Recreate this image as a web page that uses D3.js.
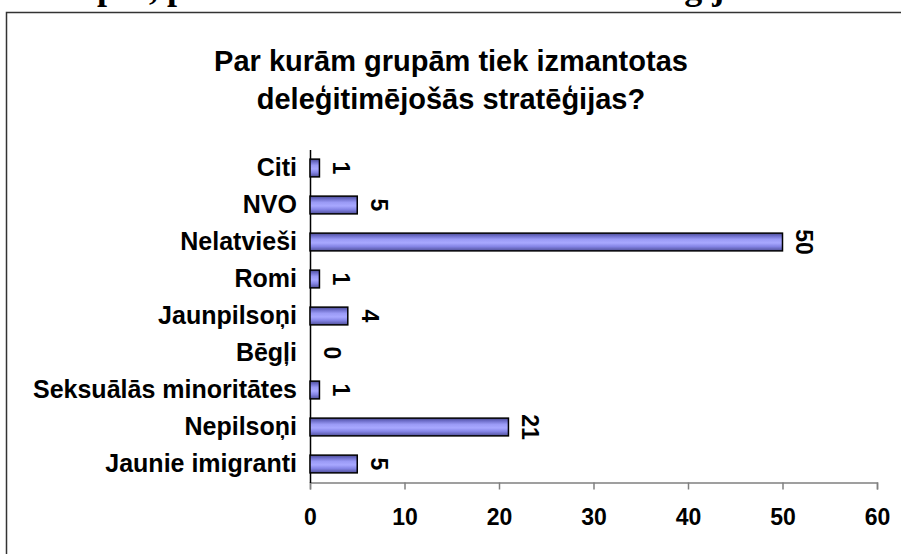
<!DOCTYPE html>
<html>
<head>
<meta charset="utf-8">
<script src="https://cdn.jsdelivr.net/npm/d3@7"></script>
<style>
  body { margin: 0; background: #fff; }
  text { font-family: "Liberation Sans", Arial, sans-serif; font-weight: bold; fill: #000; }
</style>
</head>
<body>
<svg width="901" height="554"></svg>
<script>
var screen = {width: 901, height: 554}
var margins = {top: 149.5, right: 24, bottom: 71.5, left: 310}

// chart data
var categories = ["Citi", "NVO", "Nelatvieši", "Romi", "Jaunpilsoņi", "Bēgļi", "Seksuālās minoritātes", "Nepilsoņi", "Jaunie imigranti"]
var values = [1, 5, 50, 1, 4, 0, 1, 21, 5]
var xTicks = [0, 10, 20, 30, 40, 50, 60]
var titleLines = ["Par kurām grupām tiek izmantotas", "deleģitimējošās stratēģijas?"]
var captionText = "Grupas, pret kurām tiek izmantotas stratēģijas"

var svg = d3.select("svg")

// caption line of the page above, only its descenders show
svg.append("text")
    .attr("x", 33)
    .attr("y", -1)
    .style("font-family", "'Liberation Serif', 'Times New Roman', serif")
    .style("font-size", "36px")
    .text(captionText)

// chart frame
svg.append("rect")
    .attr("x", 6.5)
    .attr("y", 12.5)
    .attr("width", 910)
    .attr("height", 560)
    .attr("fill", "#fff")
    .attr("stroke", "#333")
    .attr("stroke-width", 1.5)

var defs = svg.append("defs")
var grad = defs.append("linearGradient")
    .attr("id", "barfill")
    .attr("x1", 0).attr("y1", 0).attr("x2", 0).attr("y2", 1)
var stops = [[0, "#4a4a90"], [0.15, "#6c6cc8"], [0.35, "#9a9af5"], [0.55, "#a8a8ff"], [0.75, "#8585e6"], [1, "#4f4f9a"]]
stops.forEach(function(s){
    grad.append("stop").attr("offset", s[0]).attr("stop-color", s[1])
})

var width = screen.width - margins.left - margins.right
var height = screen.height - margins.top - margins.bottom

var xScale = d3.scaleLinear()
    .domain([0, 60])
    .range([margins.left, margins.left + width])

var yScale = d3.scaleBand()
    .domain(categories)
    .range([margins.top, margins.top + height])
    .paddingInner(0.52)
    .paddingOuter(0.26)

// title
svg.append("g")
    .selectAll("text")
    .data(titleLines)
    .enter()
    .append("text")
    .attr("x", 451)
    .attr("y", function(d, i){ return 71 + i * 38 })
    .attr("text-anchor", "middle")
    .style("font-size", "29px")
    .text(function(d){ return d })

// x axis
var xAxis = d3.axisBottom(xScale)
    .tickValues(xTicks)
    .tickSize(7)
    .tickPadding(19)
    .tickFormat(d3.format("d"))

var xg = svg.append("g")
    .attr("transform", "translate(0," + (margins.top + height) + ")")
    .call(xAxis)
xg.select(".domain").attr("stroke", "#808080").attr("stroke-width", 1.5)
xg.selectAll(".tick line").attr("stroke", "#808080").attr("stroke-width", 1.5)
xg.selectAll(".tick text")
    .style("font-size", "23px")
    .style("font-family", "'Liberation Sans', Arial, sans-serif")
    .style("font-weight", "bold")
    .attr("fill", "#000")

// y axis
var yAxis = d3.axisLeft(yScale).tickSize(0).tickPadding(13)
var yg = svg.append("g")
    .attr("transform", "translate(" + margins.left + ",0)")
    .call(yAxis)
yg.select(".domain").attr("stroke", "#000").attr("stroke-width", 1.5)
yg.selectAll(".tick text")
    .style("font-size", "25px")
    .style("font-family", "'Liberation Sans', Arial, sans-serif")
    .style("font-weight", "bold")
    .attr("fill", "#000")

// bars
var rows = categories.map(function(c, i){ return {name: c, value: values[i]} })

svg.append("g")
    .selectAll("rect")
    .data(rows.filter(function(d){ return d.value > 0 }))
    .enter()
    .append("rect")
    .attr("x", xScale(0))
    .attr("y", function(d){ return yScale(d.name) })
    .attr("width", function(d){ return xScale(d.value) - xScale(0) })
    .attr("height", yScale.bandwidth())
    .attr("fill", "url(#barfill)")
    .attr("stroke", "#000")
    .attr("stroke-width", 1.5)

// value labels, rotated
svg.append("g")
    .selectAll("text")
    .data(rows)
    .enter()
    .append("text")
    .attr("transform", function(d){
        return "translate(" + (xScale(d.value) + 22) + "," + (yScale(d.name) + yScale.bandwidth() / 2) + ") rotate(90)"
    })
    .attr("text-anchor", "middle")
    .attr("dy", "0.35em")
    .style("font-size", "23px")
    .text(function(d){ return d.value })
</script>
</body>
</html>
